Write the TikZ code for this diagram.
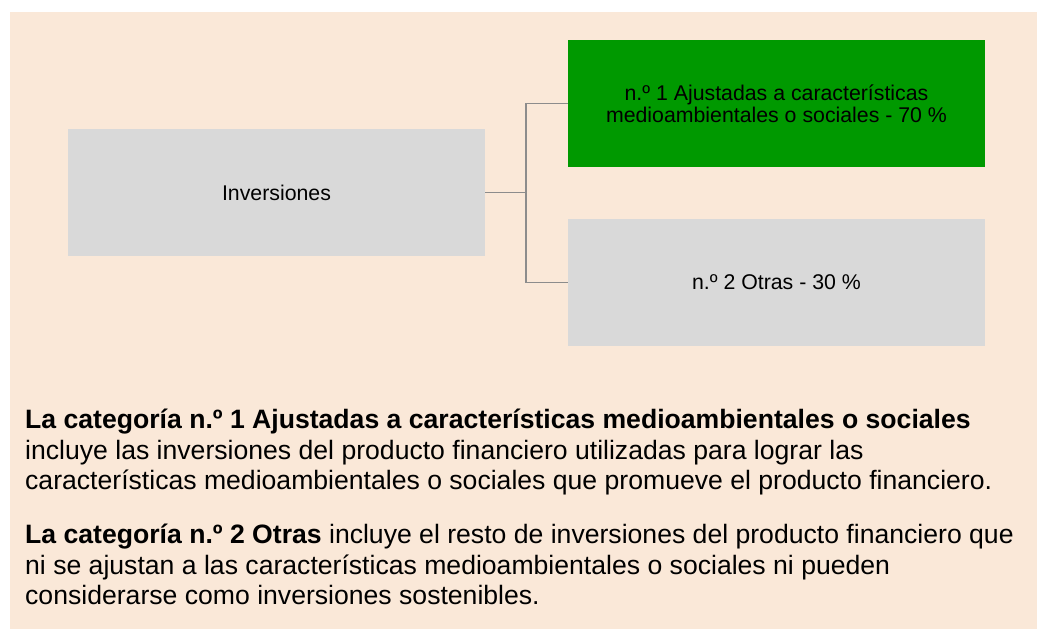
\documentclass[tikz,border=0pt]{standalone}
\usepackage{fontspec}
\setmainfont{Liberation Sans}
\definecolor{bgbeige}{RGB}{250,232,216}
\definecolor{boxgray}{RGB}{217,217,217}
\definecolor{boxgreen}{RGB}{0,153,0}
\definecolor{linkgray}{RGB}{140,140,140}
\begin{document}
\begin{tikzpicture}[x=1pt,y=-1pt,
  box/.style={minimum width=417pt, minimum height=127pt, inner sep=0pt, align=center,
    font=\fontsize{21.3}{21.7}\selectfont},
  link/.style={draw=linkgray, line width=1.3pt},
  para/.style={anchor=north west, inner sep=0pt, align=left,
    font=\fontsize{26.6}{30.5}\selectfont}]
\useasboundingbox (0,0) rectangle (1037,629);
\fill[bgbeige] (10,12) rectangle (1037,629);
\node[box, fill=boxgray] (inv) at (276.5,192.5) {Inversiones};
\node[box, fill=boxgreen] (c1) at (776.5,103.5) {n.º 1 Ajustadas a características\\medioambientales o sociales - 70 \%};
\node[box, fill=boxgray] (c2) at (776.5,282.5) {n.º 2 Otras - 30 \%};
\coordinate (j) at (526,192.5);
\draw[link] (inv.east) -- (j) |- (c1.west);
\draw[link] (j) |- (c2.west);
\node[para] (p1) at (25,409) {\textbf{La categoría n.º 1 Ajustadas a características medioambientales o sociales}\\
incluye las inversiones del producto financiero utilizadas para lograr las\\
características medioambientales o sociales que promueve el producto financiero.};
\node[para] (p2) at (25,524) {\textbf{La categoría n.º 2 Otras} incluye el resto de inversiones del producto financiero que\\
ni se ajustan a las características medioambientales o sociales ni pueden\\
considerarse como inversiones sostenibles.};
\end{tikzpicture}
\end{document}
